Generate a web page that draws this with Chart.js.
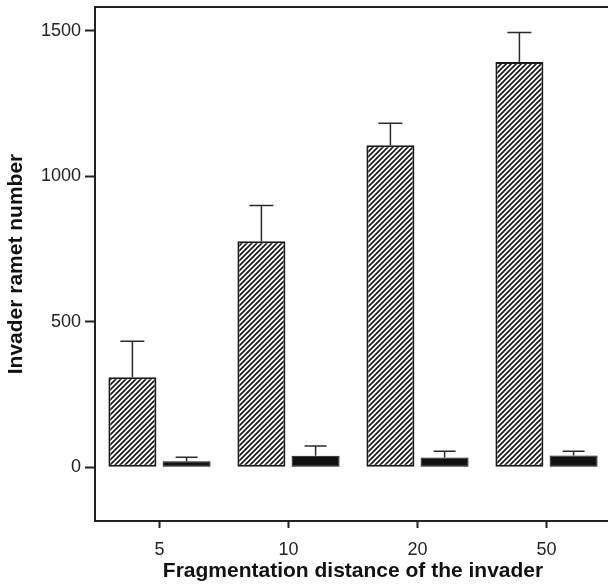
<!DOCTYPE html>
<html>
<head>
<meta charset="utf-8">
<script src="https://cdn.jsdelivr.net/npm/chart.js@4.4.1/dist/chart.umd.min.js"></script>
<style>
  html, body { margin: 0; padding: 0; background: #fff; overflow: hidden; width: 608px; height: 584px; }
  #wrap { width: 612px; height: 584px; position: relative; }
</style>
</head>
<body>
<div id="wrap"><canvas id="c" width="612" height="584"></canvas></div>
<script>
// ---- data ----
const categories = ['5', '10', '20', '50'];
const hatchedMeans = [309, 777, 1107, 1393];
const hatchedErrors = [124, 123, 75, 101];
const blackMeans = [20, 39, 33, 40];
const blackErrors = [14, 34, 22, 15];
const yTickValues = [0, 500, 1000, 1500];
const xTitle = 'Fragmentation distance of the invader';
const yTitle = 'Invader ramet number';

// ---- hatch pattern ----
function makeHatch() {
  const s = 5;
  const p = document.createElement('canvas');
  p.width = s; p.height = s;
  const g = p.getContext('2d');
  g.fillStyle = '#ffffff';
  g.fillRect(0, 0, s, s);
  g.strokeStyle = '#1a1a1a';
  g.lineWidth = 1.7;
  g.beginPath();
  g.moveTo(-1, s + 1); g.lineTo(s + 1, -1);
  g.moveTo(-1, 1); g.lineTo(1, -1);
  g.moveTo(s - 1, s + 1); g.lineTo(s + 1, s - 1);
  g.stroke();
  return document.getElementById('c').getContext('2d').createPattern(p, 'repeat');
}

const errorBars = {
  id: 'errorBars',
  afterDatasetsDraw(chart) {
    const ctx = chart.ctx;
    const y = chart.scales.y;
    ctx.save();
    ctx.strokeStyle = '#2a2a2a';
    ctx.lineWidth = 1.5;
    chart.data.datasets.forEach((ds, di) => {
      const meta = chart.getDatasetMeta(di);
      meta.data.forEach((bar, i) => {
        const v = ds.data[i];
        const e = ds.errors[i];
        const yTop = y.getPixelForValue(v + e);
        const yBase = y.getPixelForValue(v);
        const half = ds.capHalf;
        ctx.beginPath();
        ctx.moveTo(bar.x, yBase);
        ctx.lineTo(bar.x, yTop);
        ctx.moveTo(bar.x - half, yTop);
        ctx.lineTo(bar.x + half, yTop);
        ctx.stroke();
      });
    });
    ctx.restore();
  }
};

const frame = {
  id: 'frame',
  afterDraw(chart) {
    const a = chart.chartArea;
    const ctx = chart.ctx;
    ctx.save();
    ctx.strokeStyle = '#222';
    ctx.lineWidth = 2;
    ctx.strokeRect(a.left, a.top, a.right - a.left, a.bottom - a.top);
    ctx.restore();
  }
};

const tickFont = { family: '"Liberation Sans", Arial, sans-serif', size: 18 };
const titleFont = { family: '"Liberation Sans", Arial, sans-serif', size: 21, weight: 'bold' };

new Chart(document.getElementById('c'), {
  type: 'bar',
  data: {
    labels: categories,
    datasets: [
      {
        data: hatchedMeans,
        errors: hatchedErrors,
        capHalf: 12,
        backgroundColor: makeHatch(),
        borderColor: '#1a1a1a',
        borderWidth: 2,
        borderSkipped: false,
        categoryPercentage: 0.84,
        barPercentage: 0.886
      },
      {
        data: blackMeans,
        errors: blackErrors,
        capHalf: 11,
        backgroundColor: '#111111',
        borderColor: '#111111',
        borderWidth: 1,
        borderSkipped: false,
        categoryPercentage: 0.84,
        barPercentage: 0.886
      }
    ]
  },
  options: {
    responsive: false,
    animation: false,
    events: [],
    layout: { padding: { top: 7, right: 1, left: 0, bottom: 0 } },
    plugins: { legend: { display: false }, tooltip: { enabled: false } },
    scales: {
      x: {
        grid: { display: true, drawOnChartArea: false, drawTicks: true, tickLength: 7, tickWidth: 2, tickColor: '#222', offset: false },
        border: { display: true, color: '#222', width: 2 },
        ticks: { color: '#222', font: tickFont, padding: 11 },
        title: { display: true, text: xTitle, color: '#111', font: titleFont, padding: { top: 0, bottom: 0 } },
        afterFit(scale) { scale.height = 63; scale.paddingLeft = 0; scale.paddingRight = 0; }
      },
      y: {
        min: -185,
        max: 1582,
        afterBuildTicks(scale) { scale.ticks = yTickValues.map(v => ({ value: v })); },
        grid: { display: true, drawOnChartArea: false, drawTicks: true, tickLength: 10, tickWidth: 2, tickColor: '#222' },
        border: { display: true, color: '#222', width: 2 },
        ticks: { color: '#222', font: tickFont, padding: 4, callback: (v) => String(v) },
        title: { display: true, text: yTitle, color: '#111', font: titleFont, padding: { top: 4, bottom: 4 } },
        afterFit(scale) { scale.width = 95; scale.paddingTop = 0; scale.paddingBottom = 0; }
      }
    }
  },
  plugins: [errorBars, frame]
});
</script>
</body>
</html>
